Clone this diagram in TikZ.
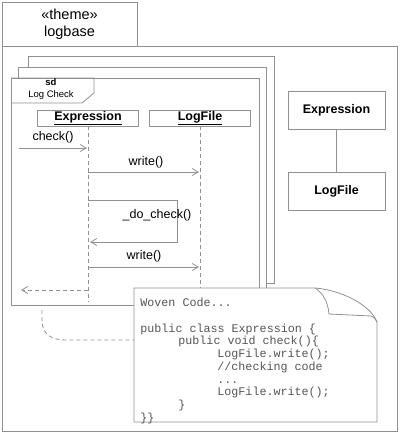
\documentclass[tikz,border=0pt]{standalone}
\usepackage{fontspec}
\setmainfont{Liberation Sans}
\setmonofont{Liberation Mono}
\usepackage{tikz}
\usetikzlibrary{arrows.meta,positioning}
\definecolor{linegray}{RGB}{145,145,145}
\definecolor{codegray}{RGB}{85,85,85}

\begin{document}
\begin{tikzpicture}[
        x=1pt, y=-1pt,
        line width=0.8pt,
        frame/.style={
            draw=linegray,
            fill=white,
            inner sep=0pt,
            anchor=north west
        },
        pkgtab/.style={
            draw=linegray,
            fill=white,
            align=center,
            minimum width=135pt,
            minimum height=44pt,
            inner sep=0pt,
            font=\fontsize{14.5}{17}\selectfont
        },
        head/.style={
            draw=linegray,
            fill=white,
            minimum width=101pt,
            minimum height=16pt,
            inner sep=0pt,
            font=\fontsize{12.5}{14}\selectfont\bfseries
        },
        classbox/.style={
            draw=linegray,
            fill=white,
            minimum width=97pt,
            minimum height=38pt,
            inner sep=0pt,
            font=\fontsize{12.5}{14}\selectfont\bfseries
        },
        msglabel/.style={
            inner sep=0pt,
            anchor=base,
            font=\fontsize{12.5}{14}\selectfont
        },
        lifeline/.style={draw=linegray, dash pattern=on 4pt off 3pt},
        msg/.style={draw=linegray, -{Straight Barb[length=6pt,width=7pt]}},
        reply/.style={msg, dash pattern=on 4pt off 3pt}
    ]
        \useasboundingbox (0,0) rectangle (400,434);

        % package
        \node[pkgtab] (tab) at (69.5,24) {«theme»\\logbase};
        \node[frame, minimum width=395pt, minimum height=385pt] (pkg) at (2,46) {};

        % stacked interaction frames
        \node[frame, minimum width=246pt, minimum height=227pt] (frameC) at (28,56) {};
        \node[frame, minimum width=248pt, minimum height=227pt] (frameB) at (18,67) {};
        \node[frame, minimum width=248pt, minimum height=227pt] (frameA) at (11,78) {};
        \draw[linegray] (frameA.north west) -- (94,78) -- (94,93) -- (82,103) -- (11,103);
        \node[align=center, inner sep=0pt, font=\fontsize{9.5}{12}\selectfont] (sdname) at (51,89) {\textbf{sd}\\Log Check};

        % lifelines
        \node[head] (exprhead) at (88,118) {\underline{Expression}};
        \node[head] (loghead) at (200,118) {\underline{LogFile}};
        \coordinate (exprend) at (88,302);
        \coordinate (logend) at (200,300);
        \draw[lifeline] (exprhead.south) -- (exprend);
        \draw[lifeline] (loghead.south) -- (logend);

        % messages
        \coordinate (c0) at (19,148);
        \coordinate (e1) at (87,148);
        \coordinate (e2) at (88,172);
        \coordinate (l2) at (199,172);
        \coordinate (e3) at (88,200);
        \coordinate (s1) at (177,200);
        \coordinate (s2) at (177,242);
        \coordinate (e4) at (90,242);
        \coordinate (e5) at (88,267);
        \coordinate (l5) at (199,267);
        \coordinate (e6) at (88,290);
        \coordinate (r6) at (21,290);
        \draw[msg] (c0) -- (e1);
        \draw[msg] (e2) -- (l2);
        \draw[msg] (e3) -- (s1) -- (s2) -- (e4);
        \draw[msg] (e5) -- (l5);
        \draw[reply] (e6) -- (r6);
        \node[msglabel] (checklbl) at (53,140) {check()};
        \node[msglabel] (write1lbl) at (146,165) {write()};
        \node[msglabel] (dochecklbl) at (157,218) {\_do\_check()};
        \node[msglabel] (write2lbl) at (144,259) {write()};

        % class view
        \node[classbox] (exprcls) at (336.5,110) {Expression};
        \node[classbox] (logcls) at (336.5,191.5) {LogFile};
        \draw[linegray] (exprcls) -- (logcls);

        % woven code note
        \draw[linegray, fill=white] (134,288) -- (315,288)
            .. controls (340,290) and (370,304) .. (377,322) -- (377,422) -- (134,422) -- cycle;
        \draw[linegray] (315,288) .. controls (323,293) and (328,302) .. (329,314)
            -- (371,316) .. controls (374,317) .. (377,322);
        \node[align=left, anchor=north west, inner sep=0pt, text=codegray,
              font=\fontsize{11.7}{12.7}\selectfont\ttfamily] (code) at (140,298) {%
            Woven Code...\\
            \mbox{}\\
            public class Expression \{\\
            \hspace*{38pt}public void check()\{\\
            \hspace*{77pt}LogFile.write();\\
            \hspace*{77pt}//checking code\\
            \hspace*{77pt}...\\
            \hspace*{77pt}LogFile.write();\\
            \hspace*{38pt}\}\\
            \}\}};
        \coordinate (noteside) at (134,340);
        \coordinate (framefoot) at (42,310);
        \draw[lifeline] (framefoot) -- (42,322) .. controls (43,335) and (52,340) .. (66,340) -- (noteside);
    \end{tikzpicture}
\end{document}
